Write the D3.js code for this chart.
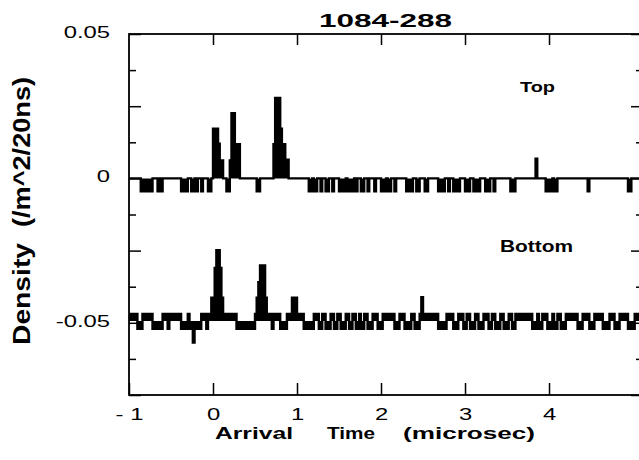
<!DOCTYPE html>
<html lang="en">
<head>
<meta charset="UTF-8">
<title>1084-288</title>
<script src="https://d3js.org/d3.v7.min.js"></script>
<style>
  body { margin: 0; background: #fff; }
  svg text { font-family: "Liberation Sans", Arial, Helvetica, sans-serif; fill: #000; }
</style>
</head>
<body>
<div id="chart"></div>
<script>
// ---------- data ----------
const binWidth = 0.02;              // 20 ns bins (microsec)
const xTicks = [-1, 0, 1, 2, 3, 4];
const xTickLabels = ['- 1', '0', '1', '2', '3', '4'];
const yTicks = [0.05, 0, -0.05];
const yTickLabels = ['0.05', '0', '-0.05'];
const yMajor = [0.05, 0.025, 0, -0.025, -0.05, -0.075];
const yMinor = [0.0375, 0.0125, -0.0125, -0.0375, -0.0625];

// Top: sits on 0, drops one step in these stretches [from, to)
const topBase = 0;
const topDip = -0.0045;
const topDipRanges = [
  [-0.86, -0.72], [-0.66, -0.64], [-0.62, -0.60], [-0.38, -0.30], [-0.26, -0.22],
  [-0.20, -0.18], [-0.14, -0.12], [-0.06, -0.02], [0.16, 0.20], [0.52, 0.56],
  [1.14, 1.18], [1.20, 1.24], [1.28, 1.30], [1.34, 1.38], [1.42, 1.44],
  [1.50, 1.58], [1.60, 1.68], [1.70, 1.72], [1.76, 1.80], [1.84, 1.86],
  [1.92, 1.94], [2.00, 2.06], [2.08, 2.12], [2.16, 2.18], [2.30, 2.38],
  [2.42, 2.46], [2.52, 2.56], [2.68, 2.76], [2.80, 2.82], [2.86, 2.94],
  [3.00, 3.06], [3.10, 3.18], [3.24, 3.30], [3.34, 3.36], [3.54, 3.60],
  [3.96, 4.04], [4.06, 4.10], [4.46, 4.48], [4.94, 4.98]
];
// single bins [time, density]
const topPeaks = [
  [0.00, 0.0172], [0.02, 0.0172], [0.04, 0.0172], [0.06, 0.0120], [0.08, 0.0062], [0.10, 0.0062],
  [0.20, 0.0062], [0.22, 0.0226], [0.24, 0.0226], [0.26, 0.0118], [0.28, 0.0118], [0.30, 0.0118],
  [0.72, 0.0118], [0.74, 0.0279], [0.76, 0.0172], [0.78, 0.0279], [0.80, 0.0172],
  [0.82, 0.0118], [0.84, 0.0118], [0.86, 0.0065], [0.88, 0.0065],
  [3.84, 0.0068]
];

// Bottom: shown around -0.05, flips between a high and a low level
const bottomBase = -0.0494;
const bottomHigh = -0.0469;
const bottomLow = -0.0521;
const bottomLowRanges = [
  [-0.90, -0.84], [-0.72, -0.60], [-0.54, -0.52], [-0.38, -0.14], [-0.08, -0.06],
  [0.28, 0.50], [0.70, 0.72], [0.80, 0.88],
  [1.08, 1.20], [1.26, 1.30], [1.34, 1.40], [1.44, 1.48], [1.52, 1.58], [1.62, 1.66],
  [1.70, 1.74], [1.76, 1.80], [1.84, 1.90], [1.96, 2.02],
  [2.16, 2.22], [2.28, 2.36], [2.40, 2.46], [2.68, 2.78], [2.86, 2.92], [2.98, 3.02],
  [3.06, 3.12], [3.16, 3.22], [3.28, 3.32], [3.36, 3.42], [3.46, 3.52], [3.56, 3.60],
  [3.80, 3.86], [3.88, 3.92], [3.98, 4.04], [4.06, 4.10], [4.14, 4.20], [4.34, 4.40],
  [4.48, 4.54], [4.64, 4.72], [4.78, 4.84], [4.94, 5.02]
];
const bottomPeaks = [
  [-0.30, -0.0469], [-0.24, -0.0568],
  [-0.02, -0.0413], [0.00, -0.0413], [0.02, -0.0310], [0.04, -0.0249], [0.06, -0.0249],
  [0.08, -0.0310], [0.10, -0.0413],
  [0.52, -0.0413], [0.54, -0.0359], [0.56, -0.0301], [0.58, -0.0301], [0.60, -0.0301], [0.62, -0.0413],
  [0.94, -0.0413], [0.98, -0.0413], [2.48, -0.0411]
];

// ---------- drawing ----------
const W = 639, H = 460;
const svg = d3.select('#chart').append('svg').attr('width', W).attr('height', H);

const x = d3.scaleLinear().domain([-1, 5.095]).range([129, 641]);
const y = d3.scaleLinear().domain([-0.075, 0.05]).range([395, 34]);

const t0 = x.domain()[0];
const nBins = Math.ceil((x.domain()[1] - t0) / binWidth) + 1;
const binStarts = d3.range(nBins).map(i => +(t0 + i * binWidth).toFixed(2));

function buildSeries(level, ranges, rangeLevel, points) {
  const vals = binStarts.map(() => level);
  ranges.forEach(([a, b]) => {
    binStarts.forEach((t, i) => { if (t >= a - 1e-6 && t < b - 1e-6) vals[i] = rangeLevel; });
  });
  points.forEach(([t, v]) => { vals[Math.round((t - t0) / binWidth)] = v; });
  const out = binStarts.map((t, i) => ({ t: t, v: vals[i] }));
  out.push({ t: binStarts[nBins - 1] + binWidth, v: vals[nBins - 1] });
  return out;
}

const topSeries = buildSeries(topBase, topDipRanges, topDip, topPeaks);
const bottomSeries = buildSeries(bottomHigh, bottomLowRanges, bottomLow, bottomPeaks);

svg.append('clipPath').attr('id', 'plotClip')
  .append('rect').attr('x', 129).attr('y', 34).attr('width', 512).attr('height', 361);

const plot = svg.append('g').attr('clip-path', 'url(#plotClip)');

function drawTrace(series, base) {
  const area = d3.area().x(d => x(d.t)).y0(y(base)).y1(d => y(d.v)).curve(d3.curveStepAfter);
  const line = d3.line().x(d => x(d.t)).y(d => y(d.v)).curve(d3.curveStepAfter);
  plot.append('path').datum(series).attr('d', area).attr('fill', '#000');
  plot.append('path').datum(series).attr('d', line)
    .attr('fill', 'none').attr('stroke', '#000').attr('stroke-width', 2.4);
}
drawTrace(topSeries, topBase);
drawTrace(bottomSeries, bottomBase);

// frame
svg.append('rect').attr('x', 129).attr('y', 34).attr('width', 512).attr('height', 361)
  .attr('fill', 'none').attr('stroke', '#000').attr('stroke-width', 1.8);

function clean(g) {
  g.select('.domain').remove();
  g.selectAll('.tick line').attr('stroke', '#000').attr('stroke-width', 1.5);
  g.attr('font-family', null).attr('font-size', null);
}

function widen(sel, k) {
  sel.each(function () {
    const w = this.getComputedTextLength();
    d3.select(this).attr('textLength', w * k).attr('lengthAdjust', 'spacingAndGlyphs');
  });
}

// bottom axis with labels
const gx = svg.append('g').attr('transform', 'translate(0,395)')
  .call(d3.axisBottom(x).tickValues(xTicks).tickSize(-12).tickPadding(13)
    .tickFormat((d, i) => xTickLabels[i]))
  .call(clean);
gx.selectAll('text').style('font-size', '17px').style('white-space', 'pre');
widen(gx.selectAll('text'), 1.4);

// top axis ticks
svg.append('g').attr('transform', 'translate(0,34)')
  .call(d3.axisTop(x).tickValues(xTicks.filter(d => d > -1)).tickSize(-11).tickFormat(''))
  .call(clean);

// left axis ticks + labels
svg.append('g').attr('transform', 'translate(129,0)')
  .call(d3.axisLeft(y).tickValues(yMajor).tickSize(-12).tickFormat('')).call(clean);
svg.append('g').attr('transform', 'translate(129,0)')
  .call(d3.axisLeft(y).tickValues(yMinor).tickSize(-7).tickFormat('')).call(clean);
const gy = svg.append('g').attr('transform', 'translate(129,0)')
  .call(d3.axisLeft(y).tickValues(yTicks).tickSize(0).tickPadding(19)
    .tickFormat((d, i) => yTickLabels[i]))
  .call(clean);
gy.selectAll('text').style('font-size', '17px').attr('dy', '0.2em');
widen(gy.selectAll('text'), 1.4);

// right axis ticks
svg.append('g').attr('transform', 'translate(641,0)')
  .call(d3.axisRight(y).tickValues(yMajor).tickSize(-10).tickFormat('')).call(clean);
svg.append('g').attr('transform', 'translate(641,0)')
  .call(d3.axisRight(y).tickValues(yMinor).tickSize(-5).tickFormat('')).call(clean);

// titles
svg.append('text').attr('x', 319).attr('y', 27).text('1084-288')
  .style('font-size', '19px').style('font-weight', 'bold')
  .attr('textLength', 133).attr('lengthAdjust', 'spacingAndGlyphs');

const xTitle = [['Arrival', 215, 78], ['Time', 327, 48], ['(microsec)', 403, 132]];
xTitle.forEach(([s, px, w]) => {
  svg.append('text').attr('x', px).attr('y', 439).text(s)
    .style('font-size', '17px').style('font-weight', 'bold')
    .attr('textLength', w).attr('lengthAdjust', 'spacingAndGlyphs');
});

const yTitle = [['Density', 345, 102], ['(/m^2/20ns)', 227, 150]];
yTitle.forEach(([s, py, w]) => {
  svg.append('text').attr('transform', `translate(30,${py}) rotate(-90)`).text(s)
    .style('font-size', '24px').style('font-weight', 'bold')
    .attr('textLength', w).attr('lengthAdjust', 'spacingAndGlyphs');
});

svg.append('text').attr('x', 520).attr('y', 92).text('Top')
  .style('font-size', '15px').style('font-weight', 'bold')
  .attr('textLength', 35).attr('lengthAdjust', 'spacingAndGlyphs');
svg.append('text').attr('x', 500).attr('y', 252).text('Bottom')
  .style('font-size', '17px').style('font-weight', 'bold')
  .attr('textLength', 73).attr('lengthAdjust', 'spacingAndGlyphs');
</script>
</body>
</html>
